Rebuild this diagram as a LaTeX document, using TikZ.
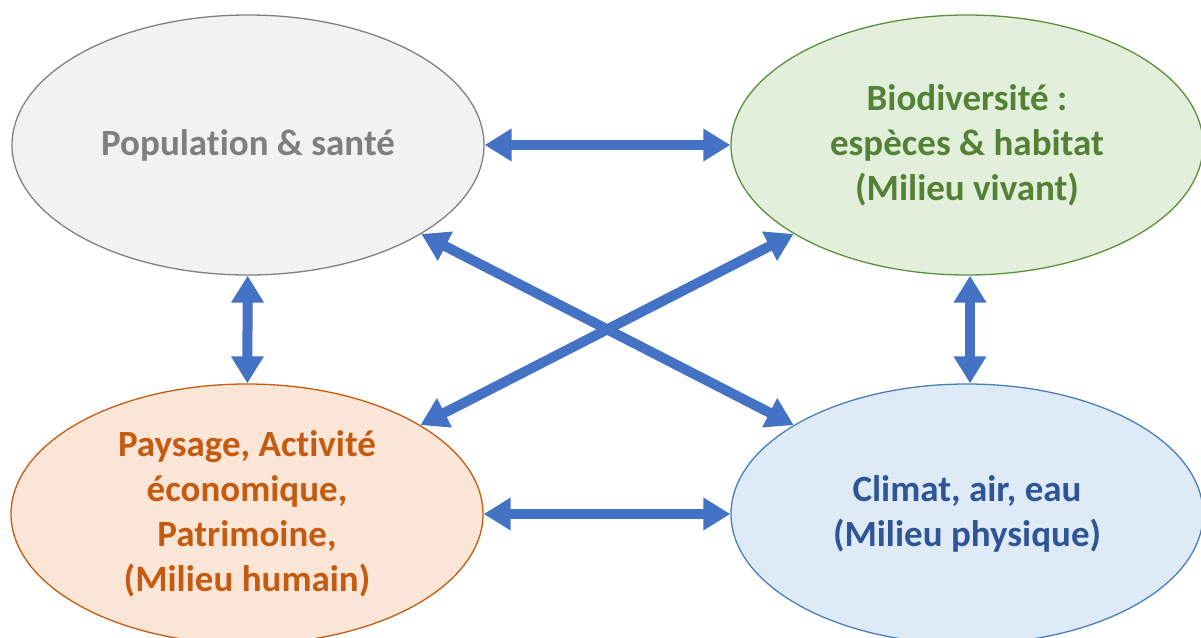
\documentclass[tikz,border=0pt]{standalone}
\usepackage{fontspec}
\setmainfont[Ligatures=NoCommon]{Carlito}
\usetikzlibrary{shapes.geometric,arrows.meta}
\definecolor{grayfill}{HTML}{F2F2F2}
\definecolor{graydraw}{HTML}{808080}
\definecolor{graytext}{HTML}{7F7F7F}
\definecolor{greenfill}{HTML}{E2EFDA}
\definecolor{greendraw}{HTML}{5E8F3E}
\definecolor{greentext}{HTML}{538135}
\definecolor{orangefill}{HTML}{FBE5D6}
\definecolor{orangedraw}{HTML}{C55A11}
\definecolor{orangetext}{HTML}{C55A11}
\definecolor{bluefill}{HTML}{DEEBF7}
\definecolor{bluedraw}{HTML}{4A7EBB}
\definecolor{bluetext}{HTML}{2F5597}
\definecolor{arrowblue}{HTML}{4472C4}
\tikzset{
  topic/.style={ellipse, minimum width=472pt, minimum height=260pt, inner sep=0pt,
    line width=1.3pt, align=center, font=\fontsize{37}{45}\selectfont\bfseries},
  link/.style={line width=10pt, draw=arrowblue,
    {Triangle[width=31pt,length=27pt]}-{Triangle[width=31pt,length=27pt]}},
}
\begin{document}
\begin{tikzpicture}[x=1pt,y=-1pt]
\useasboundingbox (0,0) rectangle (1201,637);
\node[topic, fill=grayfill, draw=graydraw, text=graytext] (pop) at (248,145) {Population \& santé};
\node[topic, fill=greenfill, draw=greendraw, text=greentext] (bio) at (967,145) {Biodiversité :\\espèces \& habitat\\(Milieu vivant)};
\node[topic, fill=orangefill, draw=orangedraw, text=orangetext] (pay) at (247,514) {Paysage, Activité\\économique,\\Patrimoine,\\(Milieu humain)};
\node[topic, fill=bluefill, draw=bluedraw, text=bluetext] (cli) at (967,514) {Climat, air, eau\\(Milieu physique)};
\draw[link] (pop) -- (bio);
\draw[link] (pay) -- (cli);
\draw[link] (pop) -- (pay);
\draw[link] ([xshift=3pt]bio.south) -- ([xshift=3pt]cli.north);
\draw[link] (pop) -- (cli);
\draw[link] (pay) -- (bio);
\end{tikzpicture}
\end{document}
